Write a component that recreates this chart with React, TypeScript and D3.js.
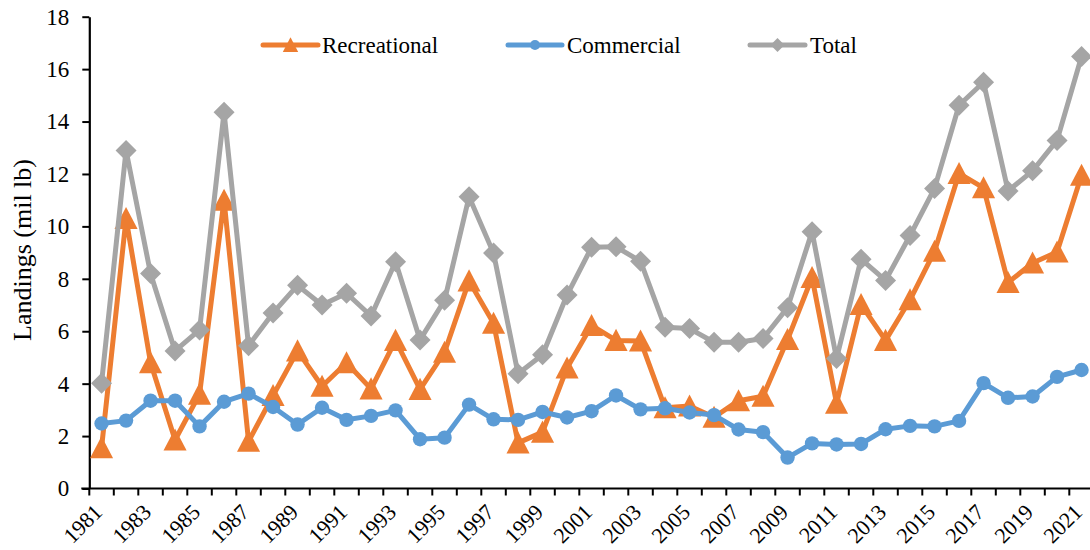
import React, { useEffect, useRef } from 'react';
import * as d3 from 'd3';

const years = d3.range(1981, 2022);

const recreational = [
  1.55, 10.3, 4.8, 1.85, 3.6, 11.0, 1.8, 3.55, 5.25, 3.9, 4.8,
  3.8, 5.65, 3.78, 5.2, 7.92, 6.3, 1.74, 2.15, 4.6, 6.22,
  5.65, 5.63, 3.08, 3.15, 2.72, 3.35, 3.52, 5.68, 8.05, 3.25,
  7.02, 5.65, 7.2, 9.05, 12.02, 11.47, 7.86, 8.6, 9.02, 11.95,
];

const commercial = [
  2.48, 2.59, 3.35, 3.35, 2.37, 3.31, 3.62, 3.11, 2.44, 3.08, 2.62,
  2.77, 2.98, 1.88, 1.94, 3.2, 2.64, 2.62, 2.92, 2.71, 2.95,
  3.55, 3.02, 3.06, 2.9, 2.8, 2.25, 2.15, 1.18, 1.72, 1.68,
  1.7, 2.26, 2.39, 2.37, 2.58, 4.02, 3.46, 3.51, 4.26, 4.52,
];

const total = [
  4.02, 12.9, 8.2, 5.25, 6.05, 14.35, 5.45, 6.7, 7.75, 7.0, 7.45,
  6.58, 8.65, 5.67, 7.18, 11.13, 8.98, 4.38, 5.1, 7.38, 9.2,
  9.22, 8.67, 6.15, 6.1, 5.58, 5.58, 5.72, 6.9, 9.8, 4.96,
  8.75, 7.94, 9.65, 11.45, 14.62, 15.5, 11.35, 12.12, 13.28, 16.48,
];

const yTicks = [0, 2, 4, 6, 8, 10, 12, 14, 16, 18];

const seriesNames = ['Recreational', 'Commercial', 'Total'];
const seriesColors = ['#ED7D31', '#5B9BD5', '#A5A5A5'];

const W = 1090;
const H = 550;
const FONT = '"Liberation Serif", "Times New Roman", serif';

const App = () => {
  const svgRef = useRef(null);

  useEffect(() => {
    const svg = d3.select(svgRef.current);
    svg.selectAll('*').remove();

    const left = 89.3;
    const step = 24.5;
    const x = d3.scaleBand()
      .domain(years.map(String))
      .range([left, left + step * years.length])
      .padding(0);

    const y = d3.scaleLinear().domain([0, 18]).range([488.5, 16.7]);

    const cx = (i) => x(String(years[i])) + x.bandwidth() / 2;

    // y axis
    const yAxis = svg.append('g')
      .attr('transform', `translate(${left},0)`)
      .call(d3.axisLeft(y).tickValues(yTicks).tickSize(7).tickPadding(13).tickSizeOuter(0));
    yAxis.select('.domain').attr('stroke', '#000').attr('stroke-width', 2.2);
    yAxis.selectAll('.tick line').attr('stroke', '#000').attr('stroke-width', 2);
    yAxis.selectAll('text')
      .style('font-family', FONT)
      .style('font-size', '23px')
      .attr('fill', '#000');

    // x axis line + ticks at category boundaries
    const g = svg.append('g');
    g.append('line')
      .attr('x1', left - 8).attr('x2', W)
      .attr('y1', y(0)).attr('y2', y(0))
      .attr('stroke', '#000').attr('stroke-width', 2.2);
    g.selectAll('.xt')
      .data(years)
      .enter()
      .append('line')
      .attr('x1', d => x(String(d)))
      .attr('x2', d => x(String(d)))
      .attr('y1', y(0))
      .attr('y2', y(0) + 7)
      .attr('stroke', '#000').attr('stroke-width', 2);

    g.selectAll('.xl')
      .data(years.filter((d, i) => i % 2 === 0))
      .enter()
      .append('text')
      .attr('transform', d => `translate(${x(String(d)) + x.bandwidth() / 2 + 2},${y(0) + 25}) rotate(-45)`)
      .attr('text-anchor', 'end')
      .style('font-family', FONT)
      .style('font-size', '22px')
      .attr('fill', '#000')
      .text(d => d);

    // axis title
    svg.append('text')
      .attr('transform', `translate(31,250) rotate(-90)`)
      .attr('text-anchor', 'middle')
      .style('font-family', FONT)
      .style('font-size', '26px')
      .attr('fill', '#000')
      .text('Landings (mil lb)');

    const seriesData = [recreational, commercial, total];
    const line = d3.line().x((d, i) => cx(i)).y(d => y(d));

    const drawMarker = (sel, kind, color, size) => {
      if (kind === 0) {
        const s = size;
        sel.append('path')
          .attr('d', `M0,${-s * 0.55}L${s * 0.55},${s * 0.5}L${-s * 0.55},${s * 0.5}Z`)
          .attr('fill', color);
      } else if (kind === 1) {
        sel.append('circle').attr('r', size * 0.36).attr('fill', color);
      } else {
        const s = size * 0.5;
        sel.append('path')
          .attr('d', `M0,${-s}L${s},0L0,${s}L${-s},0Z`)
          .attr('fill', color);
      }
    };

    [0, 1, 2].forEach(k => {
      const color = seriesColors[k];
      svg.append('path')
        .datum(seriesData[k])
        .attr('d', line)
        .attr('fill', 'none')
        .attr('stroke', color)
        .attr('stroke-width', 5)
        .attr('stroke-linejoin', 'round');
      seriesData[k].forEach((v, i) => {
        const m = svg.append('g').attr('transform', `translate(${cx(i)},${y(v)})`);
        drawMarker(m, k, color, k === 1 ? 20 : 21);
      });
    });

    // legend
    const legend = [
      { x1: 263, x2: 318, tx: 322 },
      { x1: 508, x2: 562, tx: 567 },
      { x1: 750, x2: 805, tx: 810 },
    ];
    legend.forEach((l, k) => {
      const lg = svg.append('g');
      lg.append('line')
        .attr('x1', l.x1).attr('x2', l.x2)
        .attr('y1', 45).attr('y2', 45)
        .attr('stroke', seriesColors[k])
        .attr('stroke-width', 5)
        .attr('stroke-linecap', 'round');
      const m = lg.append('g').attr('transform', `translate(${(l.x1 + l.x2) / 2},45)`);
      drawMarker(m, k, seriesColors[k], 14);
      lg.append('text')
        .attr('x', l.tx)
        .attr('y', 45)
        .attr('dy', '0.35em')
        .style('font-family', FONT)
        .style('font-size', '23px')
        .attr('fill', '#000')
        .text(seriesNames[k]);
    });
  }, []);

  return (
    <svg
      ref={svgRef}
      width={W}
      height={H}
      style={{ position: 'absolute', left: 0, top: 0, background: '#fff' }}
    />
  );
};

export default App;
